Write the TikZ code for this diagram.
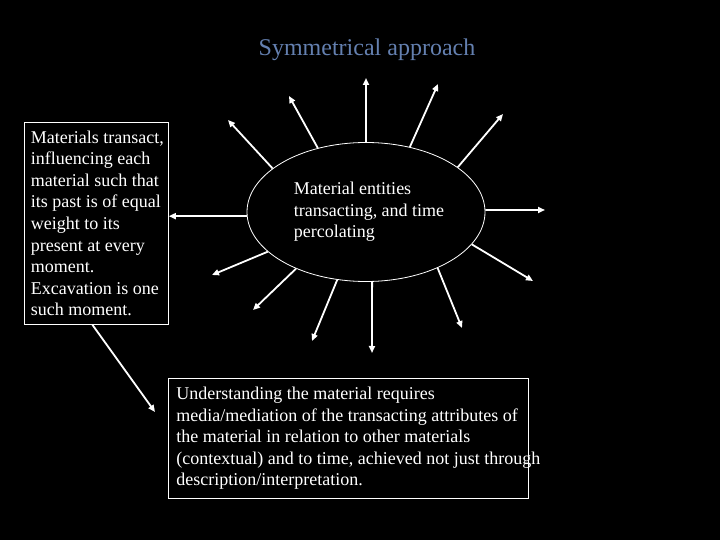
\documentclass[tikz,border=0pt]{standalone}
\usepackage{fontspec}
\setmainfont{Liberation Serif}
\usepackage{tikz}
\usetikzlibrary{arrows.meta, shapes}
\definecolor{slate}{RGB}{100, 128, 176}
\definecolor{ink}{RGB}{255, 255, 255}
\newcommand{\slidefont}{\fontsize{18}{21.6}\selectfont}

\begin{document}
\begin{tikzpicture}[x=1pt, y=-1pt,
   centell/.style={ellipse, draw=ink, fill=black, line width=0.8, text=ink,
                   inner sep=0, minimum width=238, minimum height=139,
                   align=left, font=\slidefont},
   sidebox/.style={rectangle, draw=ink, line width=0.8, text=ink,
                   inner xsep=6.5, inner ysep=2, text width=131, minimum height=202,
                   align=left, font=\slidefont,
                   execute at begin node={\spaceskip=0pt\xspaceskip=0pt\relax}},
   notebox/.style={sidebox, inner xsep=8, text width=344, minimum height=120},
   rayarr/.style={-{Triangle[length=7, width=6]}, color=ink, line width=1.8}
  ]

  \fill[black] (0, 0) rectangle (720, 540);
  \useasboundingbox (0, 0) rectangle (720, 540);

  \node (title) at (367, 50) [text=slate, font=\fontsize{24}{28}\selectfont]
        {Symmetrical approach};

  \node (core) at (366, 212) [centell]
        {\hspace*{6pt}Material entities\\ \hspace*{6pt}transacting, and time\\ \hspace*{6pt}percolating};

  \node (side) at (24, 122) [sidebox, anchor=north west]
        {\mbox{Materials transact,}\\ \mbox{influencing each}\\ \mbox{material such that}\\
         \mbox{its past is of equal}\\ \mbox{weight to its}\\ \mbox{present at every}\\
         \mbox{moment.}\\ \mbox{Excavation is one}\\ \mbox{such moment.}};

  \node (note) at (168, 378) [notebox, anchor=north west]
        {\mbox{Understanding the material requires}\\
         \mbox{media/mediation of the transacting attributes of}\\
         \mbox{the material in relation to other materials}\\
         \mbox{(contextual) and to time, achieved not just through}\\
         \mbox{description/interpretation.}};

  % free ends of the rays
  \coordinate (t1) at (366, 78);
  \coordinate (t2) at (438, 84);
  \coordinate (t3) at (503, 114);
  \coordinate (t4) at (545, 210);
  \coordinate (t5) at (533, 281);
  \coordinate (t6) at (462, 328);
  \coordinate (t7) at (372, 353);
  \coordinate (t8) at (312, 341);
  \coordinate (t9) at (253, 310);
  \coordinate (t10) at (212, 275);
  \coordinate (t11) at (228, 120);
  \coordinate (t12) at (289, 96);
  \coordinate (t13) at (155, 412);

  \foreach \A/\T in {90/t1, 56.3/t2, 26.3/t3, 1/t4, -17.6/t5, -38.8/t6,
                     -85.1/t7, -113.2/t8, -141.6/t9, -158.6/t10,
                     155.4/t11, 127.9/t12} {
    \draw[rayarr] (core.\A) -- (\T);
  }

  \draw[rayarr] (core.182) -- (core.182 -| side.east);
  \draw[rayarr] ([xshift=-4]side.south) -- (t13);

\end{tikzpicture}
\end{document}
